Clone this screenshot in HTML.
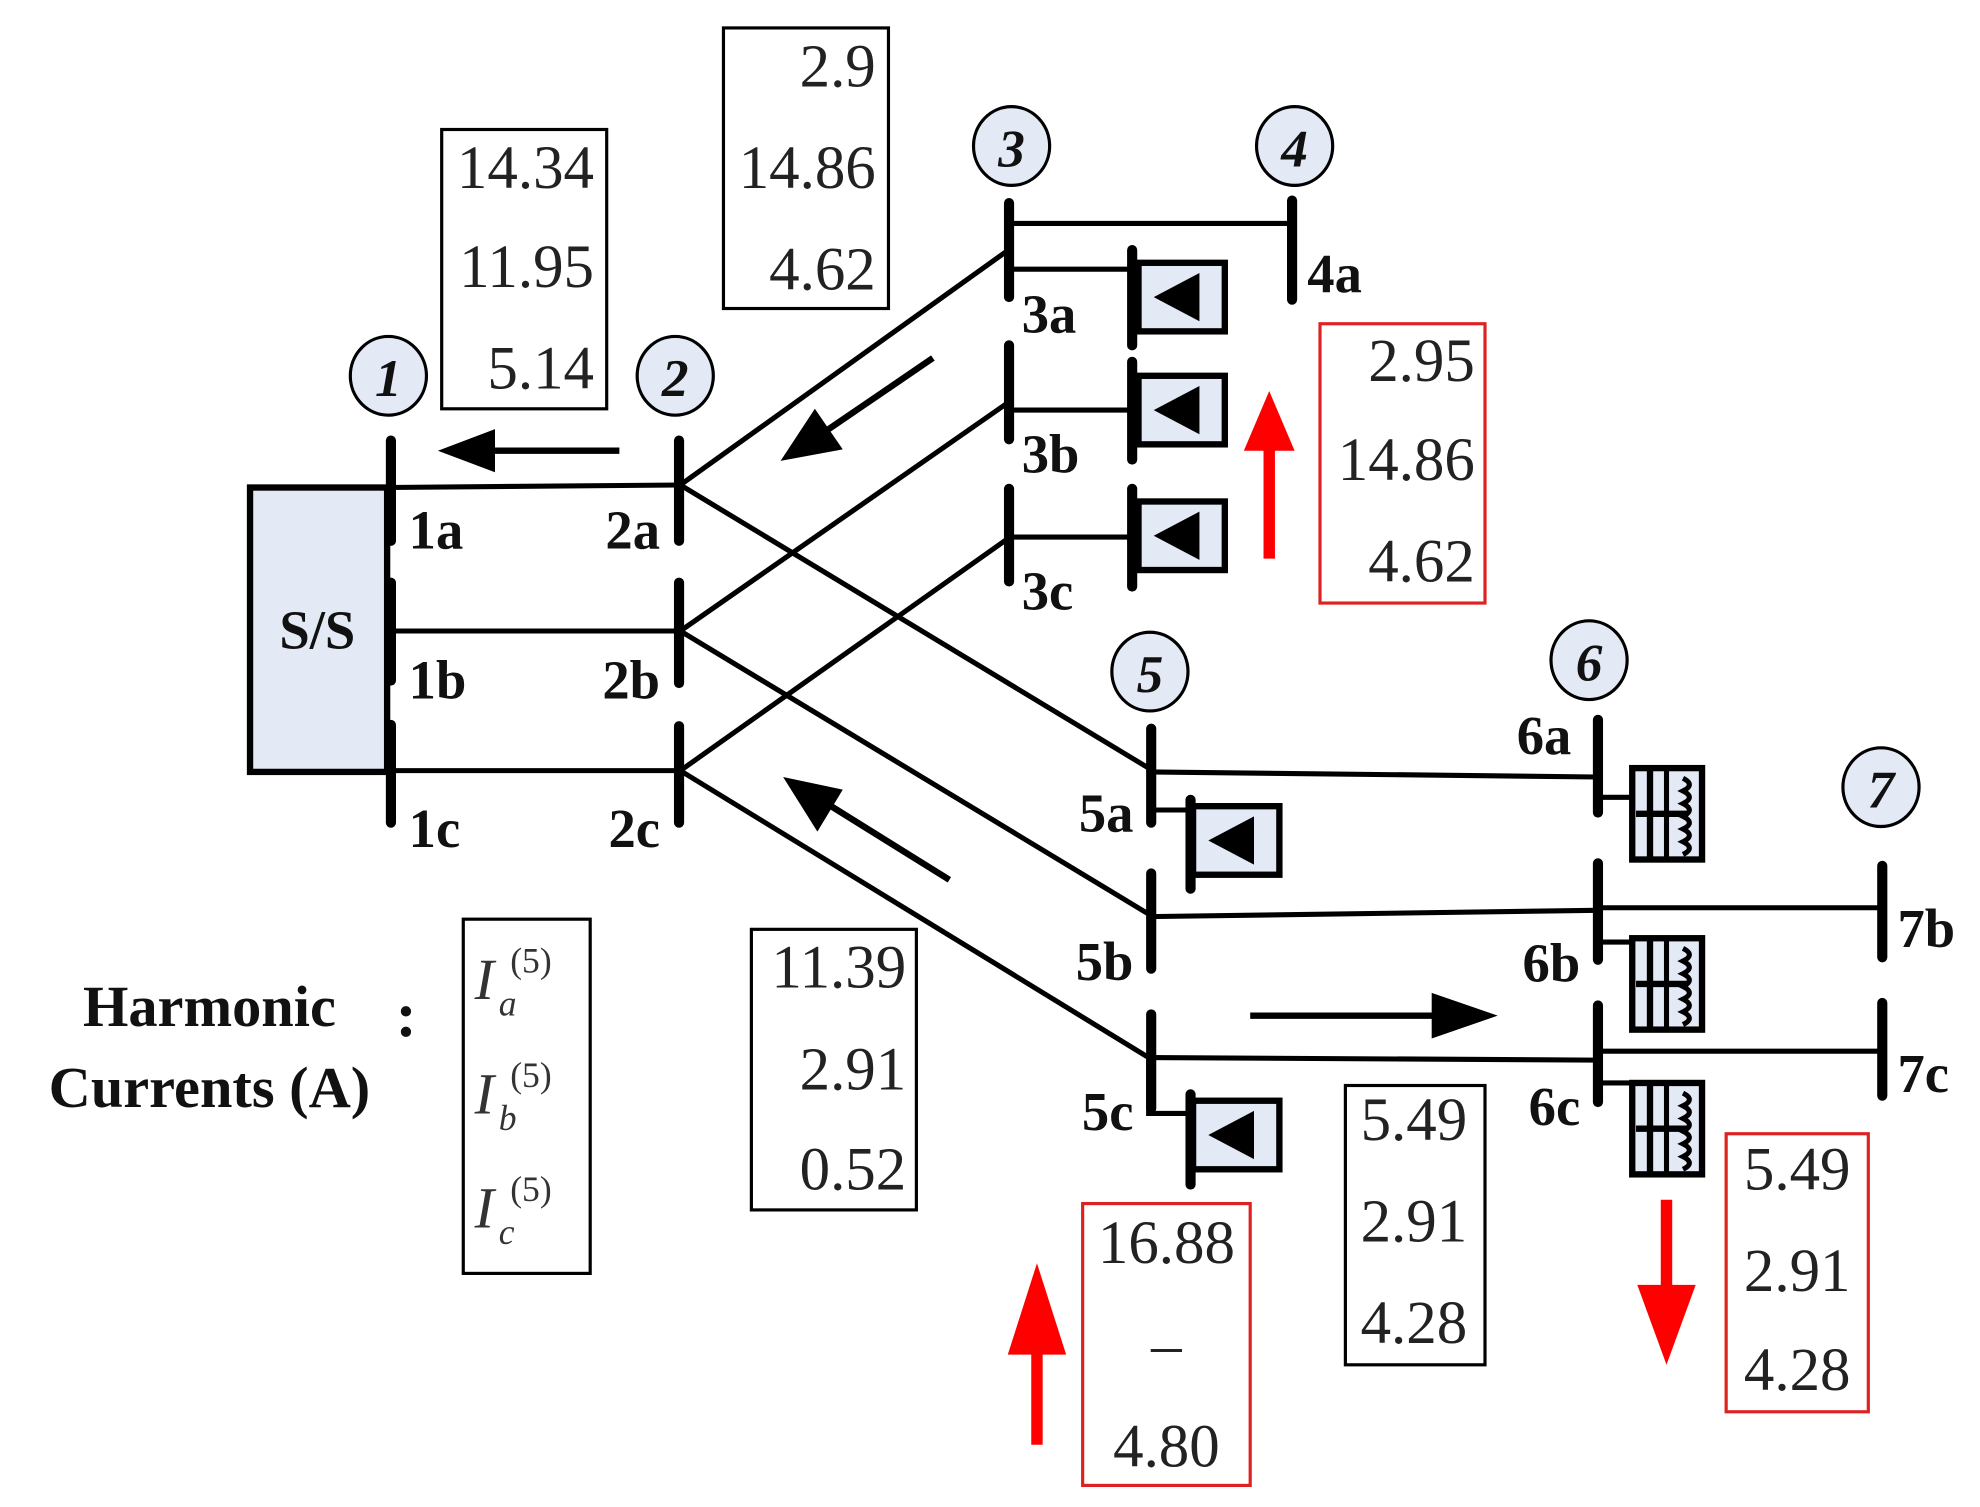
<!DOCTYPE html>
<html><head><meta charset="utf-8"><style>
html,body{margin:0;padding:0;background:#fff;}
svg{display:block;}
.n{font-family:"Liberation Serif",serif;font-size:48px;fill:#222;}
.b{font-family:"Liberation Serif",serif;font-size:43px;font-weight:bold;fill:#111;}
.c{font-family:"Liberation Serif",serif;font-size:42px;font-style:italic;font-weight:bold;fill:#111;}
</style></head><body>
<svg width="1980" height="1507" viewBox="0 0 1560 1187" preserveAspectRatio="none" xmlns="http://www.w3.org/2000/svg">
<defs>
<g id="load"><rect x="0" y="0" width="68" height="54" fill="#e3eaf6" stroke="#000" stroke-width="5"/><polygon points="12,27 48,8 48,46" fill="#000"/></g>
<g id="tr"><rect x="0" y="0" width="55" height="72" fill="#e3eaf6" stroke="#000" stroke-width="5"/>
<line x1="14" y1="0" x2="14" y2="72" stroke="#000" stroke-width="5"/><line x1="27" y1="0" x2="27" y2="72" stroke="#000" stroke-width="4"/>
<line x1="3" y1="36" x2="44" y2="36" stroke="#000" stroke-width="5"/>
<path d="M40,8 q10,5 0,10 q10,5 0,10 q10,5 0,10 q10,5 0,10 q10,5 0,10 q10,5 0,10" fill="none" stroke="#000" stroke-width="4"/></g>
</defs>
<g stroke="#000" fill="none" stroke-width="4">
<rect x="197" y="384" width="108" height="224" fill="#e3eaf6" stroke-width="5"/>
<line x1="305" y1="384" x2="536" y2="382"/>
<line x1="305" y1="497" x2="536" y2="497"/>
<line x1="305" y1="607" x2="536" y2="607"/>
<line x1="536" y1="382" x2="793" y2="198"/>
<line x1="536" y1="497" x2="793" y2="318"/>
<line x1="536" y1="607" x2="793" y2="425"/>
<line x1="536" y1="382" x2="905" y2="605"/>
<line x1="536" y1="497" x2="905" y2="720"/>
<line x1="536" y1="607" x2="905" y2="833"/>
<line x1="793" y1="176" x2="1018" y2="176"/>
<line x1="793" y1="212" x2="892" y2="212"/>
<line x1="793" y1="323" x2="892" y2="323"/>
<line x1="793" y1="423" x2="892" y2="423"/>
<line x1="905" y1="608" x2="1258" y2="612"/>
<line x1="905" y1="722" x2="1258" y2="717"/>
<line x1="1258" y1="715" x2="1483" y2="715"/>
<line x1="905" y1="833" x2="1258" y2="835"/>
<line x1="1258" y1="828" x2="1483" y2="828"/>
<polyline points="905,638 938,638"/>
<polyline points="905,835 905,877 938,877"/>
<line x1="1258" y1="628" x2="1285" y2="628"/>
<line x1="1258" y1="742" x2="1285" y2="742"/>
<line x1="1258" y1="853" x2="1285" y2="853"/>
</g>
<g stroke="#000" stroke-width="8" stroke-linecap="round">
<line x1="308" y1="347" x2="308" y2="426"/><line x1="308" y1="459" x2="308" y2="536"/><line x1="308" y1="571" x2="308" y2="648"/>
<line x1="535" y1="347" x2="535" y2="426"/><line x1="535" y1="459" x2="535" y2="538"/><line x1="535" y1="572" x2="535" y2="648"/>
<line x1="795" y1="160" x2="795" y2="234"/><line x1="795" y1="272" x2="795" y2="346"/><line x1="795" y1="385" x2="795" y2="458"/>
<line x1="1018" y1="158" x2="1018" y2="236"/>
<line x1="892" y1="197" x2="892" y2="272"/><line x1="892" y1="285" x2="892" y2="362"/><line x1="892" y1="385" x2="892" y2="462"/>
<line x1="907" y1="574" x2="907" y2="648"/><line x1="907" y1="688" x2="907" y2="763"/><line x1="907" y1="799" x2="907" y2="873"/>
<line x1="938" y1="630" x2="938" y2="700"/><line x1="938" y1="862" x2="938" y2="933"/>
<line x1="1259" y1="567" x2="1259" y2="640"/><line x1="1259" y1="680" x2="1259" y2="756"/><line x1="1259" y1="792" x2="1259" y2="868"/>
<line x1="1483" y1="682" x2="1483" y2="754"/><line x1="1483" y1="790" x2="1483" y2="863"/>
</g>
<use href="#load" x="897" y="207"/><use href="#load" x="897" y="296"/><use href="#load" x="897" y="395"/>
<use href="#load" x="940" y="635"/><use href="#load" x="940" y="867"/>
<use href="#tr" x="1286" y="605"/><use href="#tr" x="1286" y="739"/><use href="#tr" x="1286" y="853"/>
<g stroke="#000" stroke-width="5" fill="#000">
<line x1="488" y1="355" x2="380" y2="355"/><polygon points="345,355 390,338 390,372" stroke="none"/>
<line x1="735" y1="282" x2="650" y2="340"/><polygon points="615,363 642,322 664,354" stroke="none"/>
<line x1="748" y1="693" x2="650" y2="632"/><polygon points="617,612 664,622 644,655" stroke="none"/>
<line x1="985" y1="800" x2="1135" y2="800"/><polygon points="1180,800 1128,782 1128,818" stroke="none"/>
</g>
<g fill="#f00" stroke="#f00" stroke-width="9">
<line x1="1000" y1="440" x2="1000" y2="340"/><polygon points="1000,308 980,355 1020,355" stroke="none"/>
<line x1="817" y1="1138" x2="817" y2="1030"/><polygon points="817,995 794,1067 840,1067" stroke="none"/>
<line x1="1313" y1="945" x2="1313" y2="1030"/><polygon points="1313,1075 1290,1012 1336,1012" stroke="none"/>
</g>
<g fill="#e3eaf6" stroke="#000" stroke-width="2.5">
<ellipse cx="306" cy="296" rx="30" ry="31"/><ellipse cx="532" cy="296" rx="30" ry="31"/>
<ellipse cx="797" cy="115" rx="30" ry="31"/><ellipse cx="1020" cy="115" rx="30" ry="31"/>
<ellipse cx="906" cy="529" rx="30" ry="31"/><ellipse cx="1252" cy="520" rx="30" ry="31"/>
<ellipse cx="1482" cy="620" rx="30" ry="31"/>
</g>
<g class="c" text-anchor="middle">
<text x="306" y="312">1</text><text x="532" y="312">2</text><text x="797" y="131">3</text><text x="1020" y="131">4</text>
<text x="906" y="545">5</text><text x="1252" y="536">6</text><text x="1482" y="636">7</text>
</g>
<g class="b">
<text x="250" y="511" text-anchor="middle">S/S</text>
<text x="322" y="432">1a</text><text x="322" y="550">1b</text><text x="322" y="667">1c</text>
<text x="520" y="432" text-anchor="end">2a</text><text x="520" y="550" text-anchor="end">2b</text><text x="520" y="667" text-anchor="end">2c</text>
<text x="805" y="262">3a</text><text x="805" y="372">3b</text><text x="805" y="480">3c</text>
<text x="1030" y="230">4a</text>
<text x="893" y="655" text-anchor="end">5a</text><text x="893" y="772" text-anchor="end">5b</text><text x="893" y="890" text-anchor="end">5c</text>
<text x="1238" y="594" text-anchor="end">6a</text><text x="1245" y="773" text-anchor="end">6b</text><text x="1245" y="886" text-anchor="end">6c</text>
<text x="1495" y="746">7b</text><text x="1495" y="860">7c</text>
<text x="165" y="808" text-anchor="middle" font-size="46">Harmonic</text>
<text x="165" y="872" text-anchor="middle" font-size="46">Currents (A)</text>
<text x="320" y="816" text-anchor="middle" font-size="50">:</text>
</g>
<g fill="none" stroke-width="2.5">
<rect x="348" y="102" width="130" height="220" stroke="#000"/>
<rect x="570" y="22" width="130" height="221" stroke="#000"/>
<rect x="1040" y="255" width="130" height="220" stroke="#d22"/>
<rect x="592" y="732" width="130" height="221" stroke="#000"/>
<rect x="1060" y="855" width="110" height="220" stroke="#000"/>
<rect x="853" y="948" width="132" height="222" stroke="#d22"/>
<rect x="1360" y="893" width="112" height="219" stroke="#d22"/>
<rect x="365" y="724" width="100" height="279" stroke="#000"/>
</g>
<g class="n" text-anchor="end">
<text x="468" y="148">14.34</text><text x="468" y="226">11.95</text><text x="468" y="306">5.14</text>
<text x="690" y="68">2.9</text><text x="690" y="148">14.86</text><text x="690" y="228">4.62</text>
<text x="1162" y="300">2.95</text><text x="1162" y="378">14.86</text><text x="1162" y="458">4.62</text>
<text x="714" y="778">11.39</text><text x="714" y="858">2.91</text><text x="714" y="937">0.52</text>
</g>
<g class="n" text-anchor="middle">
<text x="1114" y="898">5.49</text><text x="1114" y="978">2.91</text><text x="1114" y="1058">4.28</text>
<text x="919" y="995">16.88</text><text x="919" y="1075">–</text><text x="919" y="1155">4.80</text>
<text x="1416" y="937">5.49</text><text x="1416" y="1017">2.91</text><text x="1416" y="1095">4.28</text>
</g>
<g font-family="Liberation Serif,serif" font-style="italic" fill="#333">
<text x="374" y="787" font-size="46">I</text><text x="393" y="800" font-size="28">a</text><text x="402" y="766" font-size="28" font-style="normal">(5)</text>
<text x="374" y="877" font-size="46">I</text><text x="393" y="890" font-size="28">b</text><text x="402" y="856" font-size="28" font-style="normal">(5)</text>
<text x="374" y="967" font-size="46">I</text><text x="393" y="980" font-size="28">c</text><text x="402" y="946" font-size="28" font-style="normal">(5)</text>
</g>
</svg>
</body></html>
